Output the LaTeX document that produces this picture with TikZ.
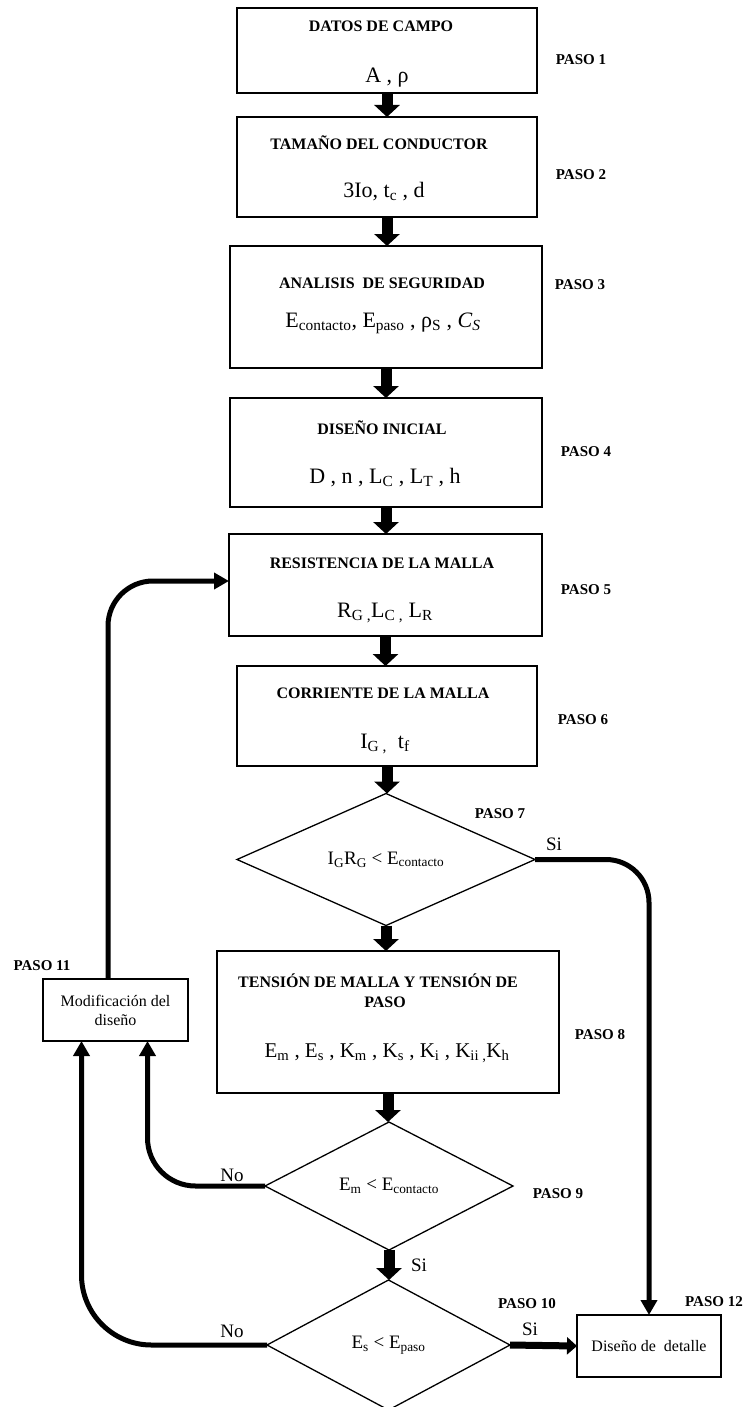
\documentclass[tikz,border=0pt]{standalone}
\usepackage{fontspec}
\setmainfont{Liberation Serif}
\usetikzlibrary{arrows.meta,shapes.geometric}

\tikzset{
  caja/.style={draw, line width=1.8pt, inner sep=0pt, outer sep=0pt},
  rombo/.style={draw, diamond, line width=1.3pt, inner sep=0pt, outer sep=0pt, font=\fontsize{19}{22}\selectfont},
  nota/.style={draw, line width=1.6pt, inner sep=0pt, outer sep=0pt, align=center, font=\fontsize{16}{19}\selectfont},
  titulo/.style={anchor=base, font=\bfseries\fontsize{16}{19}\selectfont},
  datos/.style={anchor=base, font=\fontsize{22}{26}\selectfont},
  paso/.style={anchor=base, font=\bfseries\fontsize{15}{18}\selectfont},
  resp/.style={anchor=base, font=\fontsize{19}{22}\selectfont},
  flecha/.style={line width=11pt, -{Triangle[width=25pt,length=12pt]}},
  flechasi/.style={line width=7pt, -{Triangle[width=17pt,length=10pt]}},
  retorno/.style={line width=5pt, -{Triangle[width=16pt,length=15pt]}}
}

\begin{document}
\begin{tikzpicture}[x=1pt,y=-1pt]
\useasboundingbox (0,0) rectangle (747,1407);

\node[caja, minimum width=300pt, minimum height=85pt] (b1) at (387,50.5) {};
\node[caja, minimum width=300pt, minimum height=100pt] (b2) at (387,167) {};
\node[caja, minimum width=312pt, minimum height=122pt] (b3) at (386,307) {};
\node[caja, minimum width=312pt, minimum height=109pt] (b4) at (386,452.5) {};
\node[caja, minimum width=313pt, minimum height=102pt] (b5) at (385.5,585) {};
\node[caja, minimum width=300pt, minimum height=100pt] (b6) at (387,716) {};
\node[rombo, minimum width=298pt, minimum height=127pt] (d7) at (386,859.5) {I\textsubscript{G}R\textsubscript{G} < E\textsubscript{contacto}};
\node[caja, minimum width=342pt, minimum height=142pt] (b8) at (388,1022) {};
\node[rombo, minimum width=248pt, minimum height=128pt] (d9) at (389,1186) {E\textsubscript{m} < E\textsubscript{contacto}};
\node[rombo, minimum width=243pt, minimum height=130pt] (d10) at (388.5,1345) {E\textsubscript{s} < E\textsubscript{paso}};
\node[nota, minimum width=145pt, minimum height=62pt] (b11) at (115.5,1010) {Modificación del\\diseño};
\node[nota, minimum width=144pt, minimum height=62pt] (b12) at (649,1346) {Diseño de \ detalle};

\node[titulo] (t1) at (381,32) {DATOS DE CAMPO};
\node[datos] (v1) at (387,83) {A , ρ};
\node[titulo] (t2) at (379,150) {TAMAÑO DEL CONDUCTOR};
\node[datos] (v2) at (384,197) {3Io, t\textsubscript{c} , d};
\node[titulo] (t3) at (382,288) {ANALISIS \ DE SEGURIDAD};
\node[datos] (v3) at (383,327) {E\textsubscript{contacto}, E\textsubscript{paso} , ρ\textsubscript{S} , \textit{C\textsubscript{S}}};
\node[titulo] (t4) at (382,434) {DISEÑO INICIAL};
\node[datos] (v4) at (385,483) {D , n , L\textsubscript{C} , L\textsubscript{T} , h};
\node[titulo] (t5) at (382,568) {RESISTENCIA DE LA MALLA};
\node[datos] (v5) at (385,617) {R\textsubscript{G ,}L\textsubscript{C ,} L\textsubscript{R}};
\node[titulo] (t6) at (383,698) {CORRIENTE DE LA MALLA};
\node[datos] (v6) at (385,748) {I\textsubscript{G ,} \ t\textsubscript{f}};
\node[titulo] (t8) at (378,987) {TENSIÓN DE MALLA Y TENSIÓN DE};
\node[titulo] (t8b) at (385,1007) {PASO};
\node[datos, font=\fontsize{21}{25}\selectfont] (v8) at (387,1057) {E\textsubscript{m} , E\textsubscript{s} , K\textsubscript{m} , K\textsubscript{s} , K\textsubscript{i} , K\textsubscript{ii ,}K\textsubscript{h}};

\node[paso] (p1) at (581,65) {PASO 1};
\node[paso] (p2) at (581,179) {PASO 2};
\node[paso] (p3) at (580,289) {PASO 3};
\node[paso] (p4) at (586,456) {PASO 4};
\node[paso] (p5) at (586,594) {PASO 5};
\node[paso] (p6) at (583,724) {PASO 6};
\node[paso] (p7) at (500,818) {PASO 7};
\node[paso] (p8) at (600,1039) {PASO 8};
\node[paso] (p9) at (558,1198) {PASO 9};
\node[paso] (p10) at (527,1308) {PASO 10};
\node[paso] (p11) at (42,970) {PASO 11};
\node[paso] (p12) at (714,1306) {PASO 12};

\node[resp] (si7) at (554,850) {Si};
\node[resp] (no9) at (232,1181) {No};
\node[resp] (si9) at (419,1271) {Si};
\node[resp] (no10) at (232,1337) {No};
\node[resp] (si10) at (530,1335) {Si};

\draw[flecha] (b1.south) -- (b1.south |- b2.north);
\draw[flecha] (b2.south) -- (b2.south |- b3.north);
\draw[flecha] (b3.south) -- (b3.south |- b4.north);
\draw[flecha] (b4.south) -- (b4.south |- b5.north);
\draw[flecha] (b5.south) -- (b5.south |- b6.north);
\draw[flecha] (b6.south) -- (b6.south |- d7.north);
\draw[flecha] (d7.south) -- (d7.south |- b8.north);
\draw[flecha] (b8.south) -- (b8.south |- d9.north);
\draw[flecha] (d9.south) -- (d9.south |- d10.north);
\draw[flechasi] (d10.east) -- (b12.west);

\draw[retorno, rounded corners=43pt] (d7.east) -| (b12.north);
\draw[retorno, rounded corners=48pt] (d9.west) -| ([xshift=32pt]b11.south);
\draw[retorno, rounded corners=70pt] (d10.west) -| ([xshift=-34pt]b11.south);
\draw[retorno, rounded corners=45pt] ([xshift=-7.5pt]b11.north) |- ([yshift=4pt]b5.west);
\end{tikzpicture}
\end{document}
